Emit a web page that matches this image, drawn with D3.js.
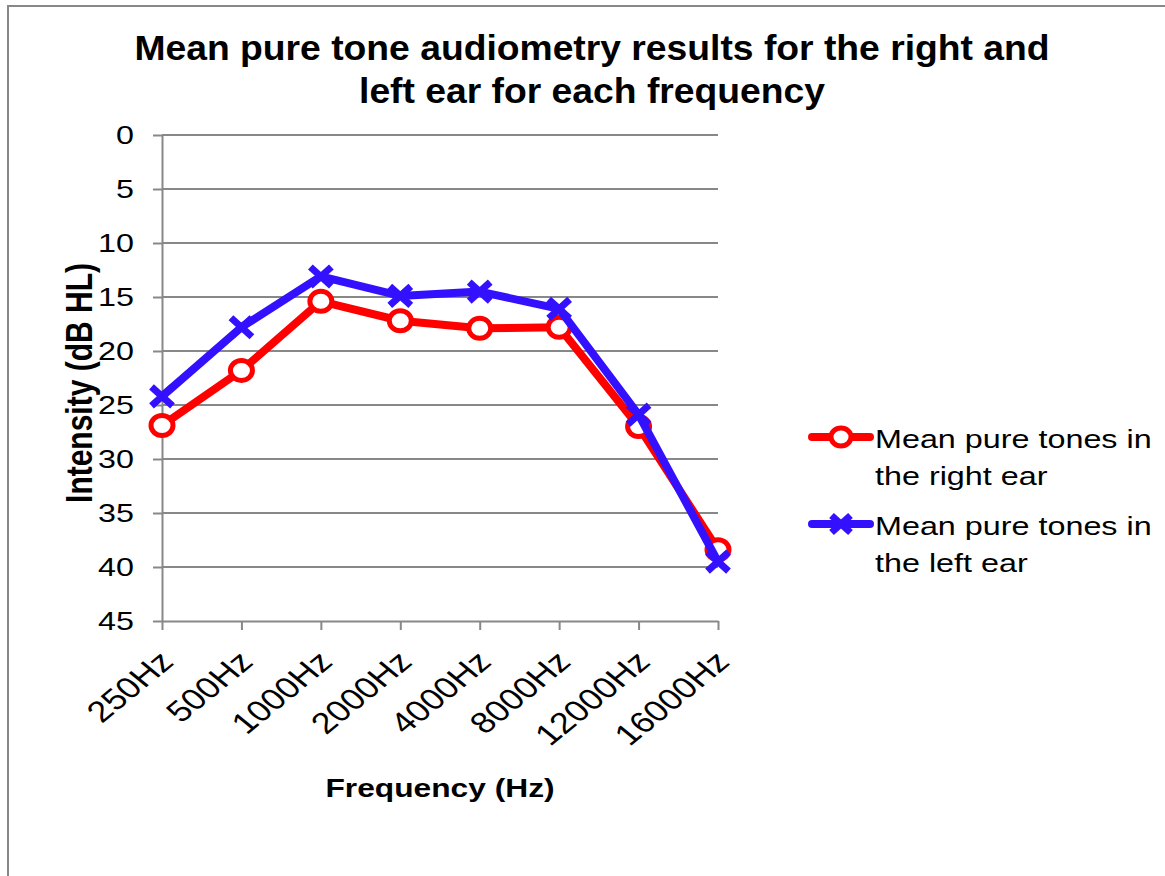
<!DOCTYPE html>
<html>
<head>
<meta charset="utf-8">
<script src="https://cdn.jsdelivr.net/npm/d3@7"></script>
<style>
  body { margin: 0; background: #fff; }
  text { font-family: "Liberation Sans", Arial, sans-serif; fill: #000; }
  .axis path, .axis line { stroke: #888; stroke-width: 2; }
  .axis text { font-size: 26.5px; }
  .grid line { stroke: #888; stroke-width: 2; }
</style>
</head>
<body>
<script>
// data
var frequencies = ["250Hz", "500Hz", "1000Hz", "2000Hz", "4000Hz", "8000Hz", "12000Hz", "16000Hz"];
var rightEar = [26.9, 21.8, 15.4, 17.2, 17.9, 17.8, 27.0, 38.4];
var leftEar = [24.2, 17.8, 13.1, 14.9, 14.5, 16.1, 25.9, 39.5];
var yTicks = [0, 5, 10, 15, 20, 25, 30, 35, 40, 45];
var seriesNames = ["Mean pure tones in the right ear", "Mean pure tones in the left ear"];

var W = 1165, H = 876;
var margin = {top: 135, left: 162, right: 447, bottom: 255};
var width = W - margin.left - margin.right;
var height = H - margin.top - margin.bottom;
var sx = 1.22; // the original picture is stretched sideways

var svg = d3.select("body").append("svg")
    .attr("width", W)
    .attr("height", H);

// outer border (runs off the right and bottom edges)
svg.append("rect")
    .attr("x", 8).attr("y", 6)
    .attr("width", W + 20).attr("height", H + 20)
    .attr("fill", "none")
    .attr("stroke", "#888")
    .attr("stroke-width", 2);

// title
var titleLines = ["Mean pure tone audiometry results for the right and", "left ear for each frequency"];
svg.selectAll(".title")
    .data(titleLines)
    .enter().append("text")
    .attr("class", "title")
    .attr("transform", function(d, i) { return "translate(592," + (60 + 43 * i) + ") scale(1.065,1)"; })
    .attr("text-anchor", "middle")
    .style("font-size", "35px").style("font-weight", "bold")
    .text(function(d) { return d; });

var g = svg.append("g")
    .attr("transform", "translate(" + margin.left + "," + margin.top + ")");

var xScale = d3.scalePoint()
    .domain(frequencies)
    .range([0, width]);

var yScale = d3.scaleLinear()
    .domain([0, 45])
    .range([0, height]);

// gridlines
g.append("g")
    .attr("class", "grid")
    .selectAll("line")
    .data(yTicks.slice(0, -1))
    .enter().append("line")
    .attr("x1", 0).attr("x2", width)
    .attr("y1", function(d) { return yScale(d); })
    .attr("y2", function(d) { return yScale(d); });

// y axis
var yAxis = d3.axisLeft(yScale)
    .tickValues(yTicks)
    .tickSize(9)
    .tickSizeOuter(0);
g.append("g")
    .attr("class", "axis")
    .call(yAxis)
    .selectAll("text")
    .attr("x", -28 / sx)
    .attr("transform", "scale(" + sx + ",1)");

// x axis
var xAxis = d3.axisBottom(xScale)
    .tickSize(9)
    .tickSizeOuter(0)
    .tickFormat("");
var xg = g.append("g")
    .attr("class", "axis")
    .attr("transform", "translate(0," + height + ")")
    .call(xAxis);

xg.selectAll(".tick")
    .append("text")
    .attr("text-anchor", "end")
    .attr("transform", "translate(-5,28) scale(" + sx + ",1) rotate(-45)")
    .attr("dy", "0.7em")
    .style("font-size", "29.5px")
    .text(function(d) { return d; });

// axis titles
svg.append("text")
    .attr("transform", "translate(440,797) scale(" + sx + ",1)")
    .attr("text-anchor", "middle")
    .style("font-size", "26px").style("font-weight", "bold")
    .text("Frequency (Hz)");

svg.append("text")
    .attr("transform", "translate(92,383) scale(" + sx + ",1) rotate(-90)")
    .attr("text-anchor", "middle")
    .style("font-size", "30px").style("font-weight", "bold")
    .text("Intensity (dB HL)");

// lines
var line = d3.line()
    .x(function(d, i) { return xScale(frequencies[i]); })
    .y(function(d) { return yScale(d); });

var red = "#ff0000", blue = "#3311ff";

function crossPath(a, b) {
  return "M" + (-a) + "," + (-b) + "L" + a + "," + b + "M" + (-a) + "," + b + "L" + a + "," + (-b);
}

g.append("path")
    .datum(rightEar)
    .attr("d", line)
    .attr("fill", "none")
    .attr("stroke", red)
    .attr("stroke-width", 8)
    .attr("stroke-linejoin", "round");

g.selectAll(".ptR")
    .data(rightEar)
    .enter().append("ellipse")
    .attr("class", "ptR")
    .attr("cx", function(d, i) { return xScale(frequencies[i]); })
    .attr("cy", function(d) { return yScale(d); })
    .attr("rx", 11).attr("ry", 10)
    .attr("fill", "#fff")
    .attr("stroke", red)
    .attr("stroke-width", 5);

g.append("path")
    .datum(leftEar)
    .attr("d", line)
    .attr("fill", "none")
    .attr("stroke", blue)
    .attr("stroke-width", 8)
    .attr("stroke-linejoin", "round");

g.selectAll(".ptL")
    .data(leftEar)
    .enter().append("path")
    .attr("class", "ptL")
    .attr("transform", function(d, i) { return "translate(" + xScale(frequencies[i]) + "," + yScale(d) + ")"; })
    .attr("d", crossPath(10.5, 9.5))
    .attr("fill", "none")
    .attr("stroke", blue)
    .attr("stroke-width", 7);

// legend
var legendY = [437, 524];
var legendColors = [red, blue];
var legend = svg.selectAll(".legend")
    .data(seriesNames)
    .enter().append("g")
    .attr("class", "legend")
    .attr("transform", function(d, i) { return "translate(812," + legendY[i] + ")"; });

legend.append("line")
    .attr("x1", 0).attr("x2", 58)
    .attr("stroke", function(d, i) { return legendColors[i]; })
    .attr("stroke-width", 8)
    .attr("stroke-linecap", "round");

legend.filter(function(d, i) { return i == 0; })
    .append("ellipse")
    .attr("cx", 29).attr("rx", 10).attr("ry", 9)
    .attr("fill", "#fff")
    .attr("stroke", red)
    .attr("stroke-width", 5);

legend.filter(function(d, i) { return i == 1; })
    .append("path")
    .attr("transform", "translate(29,0)")
    .attr("d", crossPath(9.5, 8.5))
    .attr("stroke", blue)
    .attr("stroke-width", 7);

var legendText = legend.append("text")
    .attr("transform", "translate(63,11) scale(" + sx + ",1)")
    .style("font-size", "26.5px");
legendText.append("tspan")
    .attr("x", 0).attr("y", 0)
    .text(function(d) { return d.split(" in ")[0] + " in"; });
legendText.append("tspan")
    .attr("x", 0).attr("y", 37)
    .text(function(d) { return d.split(" in ")[1]; });
</script>
</body>
</html>
